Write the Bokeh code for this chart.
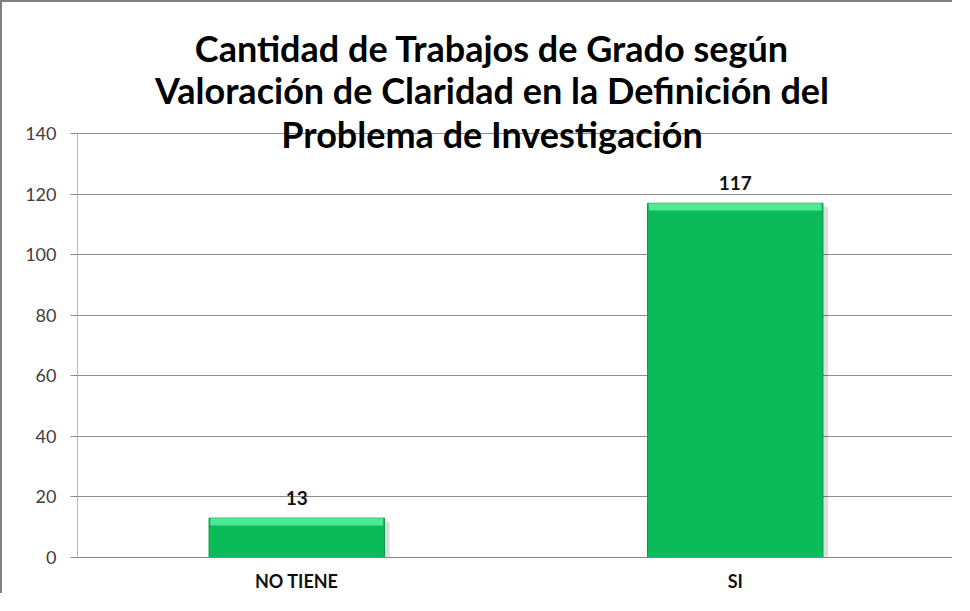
from bokeh.plotting import figure
from bokeh.models import ColumnDataSource, Label, FactorRange
from bokeh.transform import dodge
from bokeh.embed import file_html
from bokeh.resources import INLINE
from bokeh.core.properties import value

categories = ["NO TIENE", "SI"]
counts = [13, 117]
y_ticks = [0, 20, 40, 60, 80, 100, 120, 140]
title_lines = ["Cantidad de Trabajos de Grado según",
               "Valoración de Claridad en la Definición del",
               "Problema de Investigación"]

src = ColumnDataSource(dict(
    cat=categories,
    val=counts,
    hl_bottom=[v - 2.4 for v in counts],
    sh_top=[v - 1.2 for v in counts],
    lbl=[str(v) for v in counts],
))

p = figure(x_range=FactorRange(*categories), y_range=(0, 180),
           width=952, height=593, output_backend="svg", toolbar_location=None,
           min_border_left=75, min_border_top=10, min_border_bottom=38,
           min_border_right=0)
p.styles = {"border-left": "2px solid #808080", "border-top": "2px solid #808080"}
p.outline_line_color = None
p.background_fill_color = "white"
p.border_fill_color = "white"

# soft shadow to the right / below
p.vbar(x=dodge("cat", 0.012, range=p.x_range), top="sh_top", bottom=-1.0,
       width=0.4, source=src, fill_color="#000000", fill_alpha=0.13,
       line_color=None)
# main bar
p.vbar(x="cat", top="val", width=0.4, source=src, fill_color="#0BBB5A",
       line_color="#07974A", line_width=1)
# top bevel highlight
p.vbar(x="cat", top="val", bottom="hl_bottom", width=0.394, source=src,
       fill_color="#4CEB93", line_color=None)

p.text(x="cat", y="val", text="lbl", source=src, text_align="center",
       text_baseline="alphabetic", y_offset=-20, text_font=value("Lato"),
       text_font_style="bold", text_font_size="19px", text_color="#111111")

p.yaxis.ticker = y_ticks
p.yaxis.bounds = (0, 140)
p.yaxis.major_label_text_font = "Lato"
p.yaxis.major_label_text_font_size = "18px"
p.yaxis.major_label_text_color = "#404040"
p.yaxis.axis_line_color = "#b8b8b8"
p.yaxis.major_tick_line_color = "#888888"
p.yaxis.major_tick_out = 7
p.yaxis.major_tick_in = 0
p.yaxis.minor_tick_line_color = None
p.yaxis.major_label_standoff = 14

p.xaxis.axis_line_color = "#888888"
p.xaxis.major_tick_line_color = None
p.xaxis.major_tick_out = 0
p.xaxis.major_tick_in = 0
p.xaxis.major_label_text_font = "Lato"
p.xaxis.major_label_text_font_style = "bold"
p.xaxis.major_label_text_font_size = "18px"
p.xaxis.major_label_text_color = "#111111"
p.xaxis.major_label_standoff = 12
p.xgrid.grid_line_color = None
p.ygrid.grid_line_color = "#8c8c8c"

for txt, off in zip(title_lines, [86, 44, 0]):
    p.add_layout(Label(x=1.0, y=140, x_offset=-24, y_offset=off, text=txt,
                       text_align="center", text_baseline="alphabetic",
                       text_font="Lato", text_font_style="bold",
                       text_font_size="36px", text_color="#000000"))

open("out.html", "w").write(file_html(p, INLINE))
